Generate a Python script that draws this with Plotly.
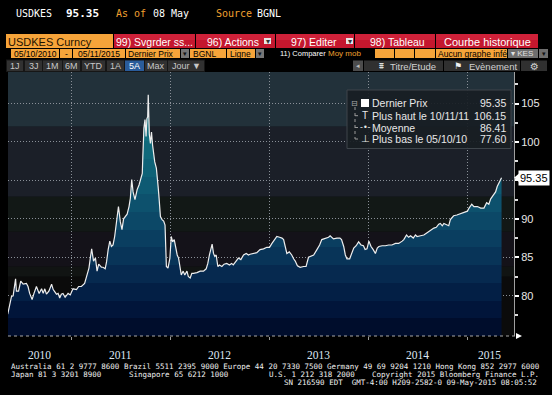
import plotly.graph_objects as go

# ---------------- data ----------------
dates = [
    "2010-05-10", "2010-05-17", "2010-05-24", "2010-05-30", "2010-06-08", "2010-06-11", "2010-06-19", "2010-06-27",
    "2010-07-06", "2010-07-18", "2010-07-24", "2010-07-30", "2010-08-08", "2010-08-15", "2010-08-24", "2010-09-03",
    "2010-09-12", "2010-09-18", "2010-09-24", "2010-09-30", "2010-10-09", "2010-10-19", "2010-10-25", "2010-11-06",
    "2010-11-12", "2010-11-18", "2010-11-24", "2010-11-30", "2010-12-08", "2010-12-19", "2010-12-27", "2011-01-06",
    "2011-01-19", "2011-01-27", "2011-02-06", "2011-02-18", "2011-02-26", "2011-03-06", "2011-03-11", "2011-03-16",
    "2011-03-23", "2011-03-30", "2011-04-05", "2011-04-11", "2011-04-21", "2011-04-27", "2011-05-05", "2011-05-10",
    "2011-05-16", "2011-05-22", "2011-05-28", "2011-06-03", "2011-06-09", "2011-06-15", "2011-06-23", "2011-06-30",
    "2011-07-06", "2011-07-12", "2011-07-19", "2011-07-25", "2011-08-01", "2011-08-06", "2011-08-11", "2011-08-16",
    "2011-08-23", "2011-08-31", "2011-09-07", "2011-09-13", "2011-09-19", "2011-09-21", "2011-09-25", "2011-09-29",
    "2011-10-03", "2011-10-06", "2011-10-09", "2011-10-11", "2011-10-15", "2011-10-19", "2011-10-23", "2011-10-27",
    "2011-11-04", "2011-11-10", "2011-11-14", "2011-11-17", "2011-11-20", "2011-11-25", "2011-12-01", "2011-12-07",
    "2011-12-12", "2011-12-17", "2011-12-23", "2011-12-30", "2012-01-04", "2012-01-09", "2012-01-15", "2012-01-20",
    "2012-01-26", "2012-01-31", "2012-02-05", "2012-02-10", "2012-02-17", "2012-02-23", "2012-03-02", "2012-03-07",
    "2012-03-14", "2012-03-20", "2012-03-26", "2012-04-08", "2012-04-20", "2012-05-02", "2012-05-12", "2012-05-18",
    "2012-05-24", "2012-05-29", "2012-06-03", "2012-06-08", "2012-06-13", "2012-06-18", "2012-06-24", "2012-06-30",
    "2012-07-09", "2012-07-17", "2012-07-27", "2012-08-06", "2012-08-14", "2012-08-20", "2012-08-31", "2012-09-08",
    "2012-09-17", "2012-09-27", "2012-10-07", "2012-10-15", "2012-10-21", "2012-11-03", "2012-11-15", "2012-11-27",
    "2012-12-10", "2012-12-22", "2013-01-01", "2013-01-10", "2013-01-22", "2013-01-28", "2013-02-07", "2013-02-16",
    "2013-02-22", "2013-02-28", "2013-03-06", "2013-03-15", "2013-03-24", "2013-03-31", "2013-04-06", "2013-04-14",
    "2013-04-24", "2013-05-07", "2013-05-16", "2013-05-25", "2013-06-03", "2013-06-13", "2013-06-25", "2013-07-05",
    "2013-07-13", "2013-07-25", "2013-08-07", "2013-08-13", "2013-08-25", "2013-09-07", "2013-09-18", "2013-09-24",
    "2013-10-02", "2013-10-08", "2013-10-14", "2013-10-24", "2013-11-02", "2013-11-08", "2013-11-17", "2013-11-26",
    "2013-12-05", "2013-12-14", "2013-12-20", "2013-12-27", "2014-01-03", "2014-01-11", "2014-01-19", "2014-01-27",
    "2014-02-03", "2014-02-09", "2014-02-21", "2014-03-05", "2014-03-17", "2014-03-29", "2014-04-11", "2014-04-23",
    "2014-05-06", "2014-05-12", "2014-05-22", "2014-05-30", "2014-06-06", "2014-06-16", "2014-06-24", "2014-06-30",
    "2014-07-13", "2014-07-25", "2014-08-06", "2014-08-18", "2014-08-31", "2014-09-09", "2014-09-18", "2014-09-24",
    "2014-10-01", "2014-10-07", "2014-10-16", "2014-10-25", "2014-10-31", "2014-11-12", "2014-11-24", "2014-12-08",
    "2014-12-20", "2015-01-02", "2015-01-08", "2015-01-18", "2015-01-26", "2015-02-08", "2015-02-20", "2015-03-04",
    "2015-03-14", "2015-03-22", "2015-03-29", "2015-04-08", "2015-04-16", "2015-04-22", "2015-04-28", "2015-05-08",
]
prices = [
    77.60, 78.8, 79.9, 80.0, 82.2, 80.6, 80.6, 81.9,
    81.5, 81.6, 81.2, 80.3, 79.5, 80.3, 81.2, 80.3,
    80.9, 80.3, 80.9, 80.2, 80.6, 81.5, 80.8, 80.2,
    80.3, 79.7, 80.2, 80.3, 79.8, 80.3, 80.1, 80.9,
    80.8, 81.2, 81.2, 81.6, 82.7, 83.6, 84.9, 86.1,
    84.5, 84.9, 83.2, 84.1, 83.7, 83.7, 83.5, 84.4,
    86.0, 87.1, 86.4, 86.6, 87.7, 89.6, 91.6, 89.6,
    88.6, 90.0, 90.3, 90.6, 91.6, 92.7, 95.1, 93.5,
    92.5, 93.8, 94.4, 95.1, 95.9, 98.1, 101.8, 102.9,
    100.7, 103.0, 103.3, 106.15, 101.0, 99.8, 101.3, 99.6,
    97.4, 96.6, 94.4, 94.0, 92.7, 90.3, 89.9, 89.7,
    89.2, 83.8, 83.6, 84.9, 87.7, 87.0, 87.3, 86.1,
    85.3, 84.9, 83.6, 82.7, 83.2, 82.7, 83.2, 82.5,
    82.3, 82.9, 82.9, 83.0, 83.2, 83.2, 83.5, 84.2,
    85.3, 86.1, 86.7, 85.5, 85.1, 85.3, 83.8, 84.0,
    83.8, 84.1, 84.2, 84.0, 84.2, 84.0, 84.5, 84.9,
    84.7, 85.3, 85.5, 85.3, 85.4, 85.5, 85.6, 86.0,
    86.1, 86.3, 86.3, 86.8, 87.3, 87.7, 87.6, 87.5,
    87.3, 86.4, 85.5, 85.7, 85.3, 84.8, 84.5, 83.9,
    83.7, 83.8, 83.8, 85.0, 85.1, 85.3, 86.0, 86.6,
    87.3, 87.4, 87.6, 87.8, 87.4, 87.5, 87.5, 87.3,
    86.4, 85.3, 84.8, 84.8, 85.5, 86.2, 86.5, 87.0,
    86.6, 86.5, 86.0, 86.1, 87.1, 86.4, 86.0, 85.5,
    86.2, 86.4, 86.5, 86.5, 86.6, 86.6, 86.8, 86.8,
    87.1, 87.3, 87.9, 87.6, 87.8, 87.5, 87.9, 87.7,
    87.8, 87.9, 88.2, 88.5, 88.8, 88.9, 89.3, 89.4,
    89.1, 89.4, 89.2, 89.1, 89.9, 90.4, 90.5, 90.7,
    90.8, 91.0, 91.4, 91.9, 91.6, 91.6, 91.4, 91.4,
    92.1, 91.9, 92.6, 93.1, 93.5, 94.2, 94.7, 95.35,
]
mean_reported = 86.41
high_date_label = "10/11/11"
low_date_label = "05/10/10"

year_labels = ["2010", "2011", "2012", "2013", "2014", "2015"]
year_label_pos = ["2010-09-06", "2011-07-02", "2012-07-01", "2013-07-02", "2014-07-02", "2015-03-23"]
year_starts = ["2011-01-01", "2012-01-01", "2013-01-01", "2014-01-01", "2015-01-01"]
y_ticks = [80, 85, 90, 95, 100, 105]
y_ticktext = ["80", "85", "90", "", "100", "105"]
y_minor = [77.5, 82.5, 87.5, 92.5, 97.5, 102.5, 107.5]

last_price = prices[-1]
high_price = max(prices)
low_price = min(prices)

# ---------------- layout helpers (pixel -> paper) ----------------
W, H = 552, 395
L, R, T, B = 8, 514, 72, 336
Y0, Y1 = 74.76, 109.1


def fx(x):
    return (x - L) / (R - L)


def fy(y):
    return (B - y) / (B - T)


shapes = []
ann = []


def rect(x0, y0, x1, y1, fill, line=None, layer="above"):
    shapes.append(dict(type="rect", xref="paper", yref="paper",
                       x0=fx(x0), x1=fx(x1), y0=fy(y1), y1=fy(y0),
                       fillcolor=fill, layer=layer,
                       line=dict(width=1 if line else 0, color=line or fill)))


def hline(x0, x1, y, color, dash="solid", width=1):
    shapes.append(dict(type="line", xref="paper", yref="paper", x0=fx(x0), x1=fx(x1),
                       y0=fy(y), y1=fy(y), line=dict(color=color, width=width, dash=dash)))


def vline(x, y0, y1, color, dash="solid", width=1):
    shapes.append(dict(type="line", xref="paper", yref="paper", x0=fx(x), x1=fx(x),
                       y0=fy(y0), y1=fy(y1), line=dict(color=color, width=width, dash=dash)))


def text(x, y, s, size=10, color="#ffffff", family="Liberation Sans", anchor="left"):
    ann.append(dict(xref="paper", yref="paper", x=fx(x), y=fy(y), text=s, showarrow=False,
                    xanchor=anchor, yanchor="middle", borderpad=0,
                    font=dict(size=size, color=color, family=family)))


MONO = "DejaVu Sans Mono"
ORANGE = "#f6a43a"
RED = "#c4172e"

# ---------------- plot-area background bands ----------------
bands = [(72, 126.7, "#22313a"), (126.7, 196.7, "#1b1f28"), (196.7, 231.7, "#121816"),
         (231.7, 266.7, "#141219"), (266.7, 276.7, "#111413"), (276.7, 336, "#0b0b0b")]
for y0, y1, c in bands:
    rect(L, y0, R, y1, c, layer="below")

# ---------------- header ----------------
text(15, 13.5, "USDKES", 10, "#ffffff", MONO)
text(65, 13.5, "<b>95.35</b>", 11, "#ffffff", MONO)
text(115, 13.5, "As of", 10, "#f0a030", MONO)
text(152, 13.5, "08 May", 10, "#ffffff", MONO)
text(215, 13.5, "Source", 10, "#f0a030", MONO)
text(256, 13.5, "BGNL", 10, "#ffffff", MONO)

rect(6, 34, 113, 48, ORANGE)
text(7, 41.5, "USDKES Curncy", 11, "#1e1200")
for x0, x1 in [(114, 195), (196, 275), (276, 354), (355, 435), (436, 538)]:
    rect(x0, 34, x1, 48, RED)
    rect(x0, 34, x1, 40, "#cf2139")
text(154, 41.5, "99) Svgrder ss...", 10.5, "#ffffff", anchor="center")
text(233, 41.5, "96) Actions", 10.5, "#ffffff", anchor="center")
rect(264, 38, 271, 44, "#e8e8e8")
text(267.5, 41, "▾", 8, "#333333", "DejaVu Sans", anchor="center")
text(314, 41.5, "97) Editer", 10.5, "#ffffff", anchor="center")
rect(346, 38, 353, 44, "#e8e8e8")
text(349.5, 41, "▾", 8, "#333333", "DejaVu Sans", anchor="center")
text(397, 41.5, "98) Tableau", 10.5, "#ffffff", anchor="center")
text(487, 41.5, "Courbe historique", 11, "#ffffff", anchor="center")

# row 3
rect(11, 49, 59, 58, ORANGE)
text(35, 53.8, "05/10/2010", 8.5, "#000000", anchor="center")
rect(60, 49, 72, 58, ORANGE)
text(66, 53.8, "-", 8.5, "#000000", anchor="center")
rect(73, 49, 125, 58, ORANGE)
text(99, 53.8, "05/11/2015", 8.5, "#000000", anchor="center")
rect(126, 49, 180, 58, ORANGE)
text(127, 53.8, "Dernier Prix", 8.5, "#000000")
rect(181, 49, 189, 58, "#767676")
text(185, 53.5, "▾", 7, "#111111", "DejaVu Sans", anchor="center")
rect(190, 49, 226, 58, ORANGE)
text(192, 53.8, "BGNL", 8.5, "#000000")
rect(227, 49, 255, 58, ORANGE)
text(229, 53.8, "Ligne", 8.5, "#000000")
rect(256, 49, 264, 58, "#767676")
text(260, 53.5, "▾", 7, "#111111", "DejaVu Sans", anchor="center")
text(279, 53.8, "11) Comparer", 7.5, "#ffffff")
text(327, 53.8, "Moy mob", 8, "#f0a030")
for x0, x1 in [(375, 394), (395, 414), (415, 435)]:
    rect(x0, 49, x1, 58, ORANGE)
rect(436, 49, 507, 58, ORANGE)
text(437, 53.8, "Aucun graphe infé", 8.5, "#000000")
rect(508, 49, 538, 58, "#6e6e6e")
text(510, 53.8, "▾ KES", 8, "#e0e0e0")
rect(539, 49, 548, 58, "#6e6e6e")
text(543.5, 53.5, "▾", 7, "#111111", "DejaVu Sans", anchor="center")

# row 4
rect(6, 59.5, 205, 72, "#161616")
buttons = [(7, 23, "1J"), (25, 42, "3J"), (43, 62, "1M"), (63, 80, "6M"), (82, 105, "YTD"),
           (107, 124, "1A"), (125, 144, "5A"), (145, 167, "Max"), (168, 204, "Jour ▼")]
for x0, x1, s in buttons:
    active = s == "5A"
    rect(x0, 60.5, x1, 71, "#2a5c9a" if active else "#313131")
    text((x0 + x1) / 2, 66, s, 9, "#ffffff" if active else "#c8c8c8", anchor="center")
rect(353, 60.5, 363, 71, "#4c4c4c")
text(358, 66, "◂", 7, "#bbbbbb", "DejaVu Sans", anchor="center")
rect(364, 60.5, 443, 71, "#303030")
text(381, 66, "⩩", 9, "#dddddd", "DejaVu Sans", anchor="center")
text(389, 66, "Titre/Etude", 9.5, "#d0d0d0")
rect(444, 60.5, 520, 71, "#303030")
text(458, 66, "⚑", 9, "#f0f0f0", "DejaVu Sans", anchor="center")
text(468, 66, "Evènement", 9.5, "#d0d0d0")
rect(521, 60.5, 547, 71, "#303030")
text(534, 66, "⚙", 10, "#d0d0d0", "DejaVu Sans", anchor="center")

# ---------------- legend box ----------------
rect(347, 90, 511, 148.5, "rgba(24,30,35,0.93)", line="#3e454b")
text(354.5, 103, "⊟", 8, "#aaaaaa", "DejaVu Sans", anchor="center")
rect(361, 99, 369, 107, "#ffffff")
vline(355, 107, 139, "#9a9a9a", dash="dot")
for yy in (115.7, 127.5, 139):
    hline(355, 360, yy, "#9a9a9a", dash="dot")
text(365, 115.7, "T", 10, "#e8e8e8", anchor="center")
text(365, 127.5, "-•-", 8, "#e8e8e8", "DejaVu Sans", anchor="center")
text(365, 138.8, "⊥", 10, "#e8e8e8", "DejaVu Sans", anchor="center")
rows = [("Dernier Prix", last_price), ("Plus haut le " + high_date_label, high_price),
        ("Moyenne", mean_reported), ("Plus bas le " + low_date_label, low_price)]
for (lab, val), yy in zip(rows, (103, 115.7, 127.5, 138.9)):
    text(371, yy, lab, 10.5, "#e8e8e8")
    text(507, yy, f"{val:.2f}", 10.5, "#e8e8e8", anchor="right")

# ---------------- last price marker ----------------
ann.append(dict(xref="paper", yref="y", x=fx(518), y=last_price, text=f"{last_price:.2f}",
                showarrow=False, xanchor="left", yanchor="middle", bgcolor="#ffffff",
                borderpad=1, font=dict(size=11, color="#000000", family="Liberation Sans")))
shapes.append(dict(type="path", xref="paper", yref="y",
                   path=f"M {fx(514)},{last_price} L {fx(519)},{last_price + 0.55} L {fx(519)},{last_price - 0.55} Z",
                   fillcolor="#ffffff", line=dict(width=0)))

# bottom dotted axis line with arrow
hline(L, 516, 336, "#a8a8a8", dash="dot")
shapes.append(dict(type="path", xref="paper", yref="paper",
                   path=f"M {fx(516)},{fy(333)} L {fx(522)},{fy(336)} L {fx(516)},{fy(339)} Z",
                   fillcolor="#ffffff", line=dict(width=0)))

# year labels
for lab, pos in zip(year_labels, year_label_pos):
    ann.append(dict(xref="x", yref="paper", x=pos, y=fy(354.5), text=lab, showarrow=False,
                    xanchor="center", yanchor="middle", borderpad=0,
                    font=dict(size=11.5, color="#dde8f4", family="Liberation Serif")))

# footer
text(10, 366, "Australia 61 2 9777 8600 Brazil 5511 2395 9000 Europe 44 20 7330 7500 Germany 49 69 9204 1210 Hong Kong 852 2977 6000",
     7.5, "#f0f0f0", MONO)
text(10, 374.3, "Japan 81 3 3201 8900", 7.5, "#f0f0f0", MONO)
text(128, 374.3, "Singapore 65 6212 1000", 7.5, "#f0f0f0", MONO)
text(268, 374.3, "U.S. 1 212 318 2000", 7.5, "#f0f0f0", MONO)
text(371, 374.3, "Copyright 2015 Bloomberg Finance L.P.", 7.5, "#f0f0f0", MONO)
text(538, 382.6, "SN 216590 EDT  GMT-4:00 H209-2582-0 09-May-2015 08:05:52", 7.5, "#f0f0f0", MONO, anchor="right")

# ---------------- trace ----------------
fill_colors = ["#000d2c", "#01153a", "#031f45", "#06294f", "#083458", "#0a3e60", "#0c4867",
               "#0d516d", "#0e5a73", "#0f6277", "#10697b", "#126f7f", "#157683", "#197c88"]
n = len(fill_colors)
cscale = []
for i, c in enumerate(fill_colors):
    cscale.append([i / n, c])
    cscale.append([(i + 1) / n, c])

fig = go.Figure()
fig.add_trace(go.Scatter(
    x=dates, y=prices, mode="lines", fill="tozeroy",
    line=dict(color="#eeeeee", width=1.2),
    fillgradient=dict(type="vertical", colorscale=cscale, start=Y0, stop=107),
    hoverinfo="skip",
))

fig.update_layout(
    width=W, height=H,
    margin=dict(l=L, r=W - R, t=T, b=H - B),
    paper_bgcolor="#000000", plot_bgcolor="#0b0b0b",
    showlegend=False, hovermode=False,
    shapes=shapes, annotations=ann,
    xaxis=dict(type="date", range=["2010-05-11", "2015-06-23"],
               tickmode="array", tickvals=year_starts, ticktext=[""] * len(year_starts),
               showgrid=True, gridcolor="#8a9098", griddash="1px,2px", gridwidth=1,
               ticks="outside", ticklen=3, tickcolor="#999999",
               showline=False, zeroline=False, showticklabels=False),
    yaxis=dict(side="right", range=[Y0, Y1],
               tickmode="array", tickvals=y_ticks, ticktext=y_ticktext,
               showgrid=True, gridcolor="#8a9098", griddash="1px,2px", gridwidth=1,
               ticks="outside", ticklen=4, tickwidth=2, tickcolor="#ffffff",
               minor=dict(tickmode="array", tickvals=y_minor, ticks="outside", ticklen=3,
                          tickcolor="#dddddd", showgrid=False),
               showline=True, linecolor="#a0a0a0", linewidth=1, zeroline=False,
               tickfont=dict(size=11, color="#e8e8e8", family="Liberation Sans")),
)

fig.write_html("out.html", config={"displayModeBar": False},
               post_script="document.body.style.margin='0';document.body.style.background='#000';")
